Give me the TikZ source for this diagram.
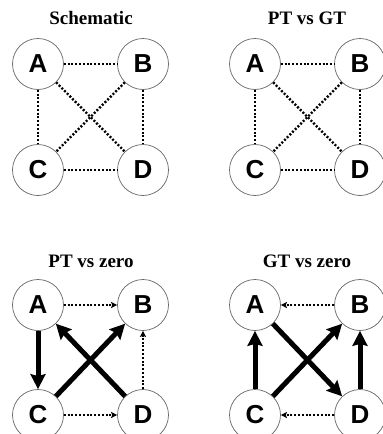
\documentclass[tikz,border=0pt]{standalone}
\usepackage{fontspec}
\setmainfont{Liberation Serif}
\newfontfamily\letterfont{Liberation Sans}
\usetikzlibrary{arrows.meta}
\begin{document}
\begin{tikzpicture}[x=1pt,y=-1pt,
  vert/.style={circle,draw=black!60,line width=0.7pt,fill=white,minimum size=51pt,inner sep=0pt,
    font=\letterfont\bfseries\fontsize{26}{26}\selectfont},
  ttl/.style={font=\bfseries\fontsize{19}{19}\selectfont},
  dotline/.style={line width=2.4pt,dash pattern=on 2pt off 1.8pt},
  dotarrow/.style={dotline,-{Stealth[length=6pt,width=6pt,inset=1pt]}},
  thickarrow/.style={line width=5pt,-{Stealth[length=15pt,width=15pt,inset=2pt]}}]
\useasboundingbox (0,0) rectangle (383,434);
% panel 1
\node[ttl] (t1) at (91,18) {Schematic};
\node[vert] (a1) at (38,64) {A};
\node[vert] (b1) at (143,64) {B};
\node[vert] (c1) at (38,170) {C};
\node[vert] (d1) at (143,170) {D};
\draw[dotline] (a1) -- (b1);
\draw[dotline] (a1) -- (c1);
\draw[dotline] (a1) -- (d1);
\draw[dotline] (b1) -- (c1);
\draw[dotline] (b1) -- (d1);
\draw[dotline] (c1) -- (d1);
% panel 2
\node[ttl] (t2) at (307,18) {PT vs GT};
\node[vert] (a2) at (255,64) {A};
\node[vert] (b2) at (360,64) {B};
\node[vert] (c2) at (255,170) {C};
\node[vert] (d2) at (360,170) {D};
\draw[dotline] (a2) -- (b2);
\draw[dotline] (a2) -- (c2);
\draw[dotline] (a2) -- (d2);
\draw[dotline] (b2) -- (c2);
\draw[dotline] (b2) -- (d2);
\draw[dotline] (c2) -- (d2);
% panel 3
\node[ttl] (t3) at (91,261) {PT vs zero};
\node[vert] (a3) at (38,305) {A};
\node[vert] (b3) at (143,305) {B};
\node[vert] (c3) at (38,415) {C};
\node[vert] (d3) at (143,415) {D};
\draw[dotarrow] (a3) -- (b3);
\draw[dotarrow] (c3) -- (d3);
\draw[dotarrow] (d3) -- (b3);
\draw[thickarrow] (a3) -- (c3);
\draw[thickarrow] (d3) -- (a3);
\draw[thickarrow] (c3) -- (b3);
% panel 4
\node[ttl] (t4) at (307,261) {GT vs zero};
\node[vert] (a4) at (255,305) {A};
\node[vert] (b4) at (360,305) {B};
\node[vert] (c4) at (255,415) {C};
\node[vert] (d4) at (360,415) {D};
\draw[dotarrow] (b4) -- (a4);
\draw[dotarrow] (d4) -- (c4);
\draw[thickarrow] (c4) -- (a4);
\draw[thickarrow] (a4) -- (d4);
\draw[thickarrow] (c4) -- (b4);
\draw[thickarrow] (d4) -- (b4);
\end{tikzpicture}
\end{document}
